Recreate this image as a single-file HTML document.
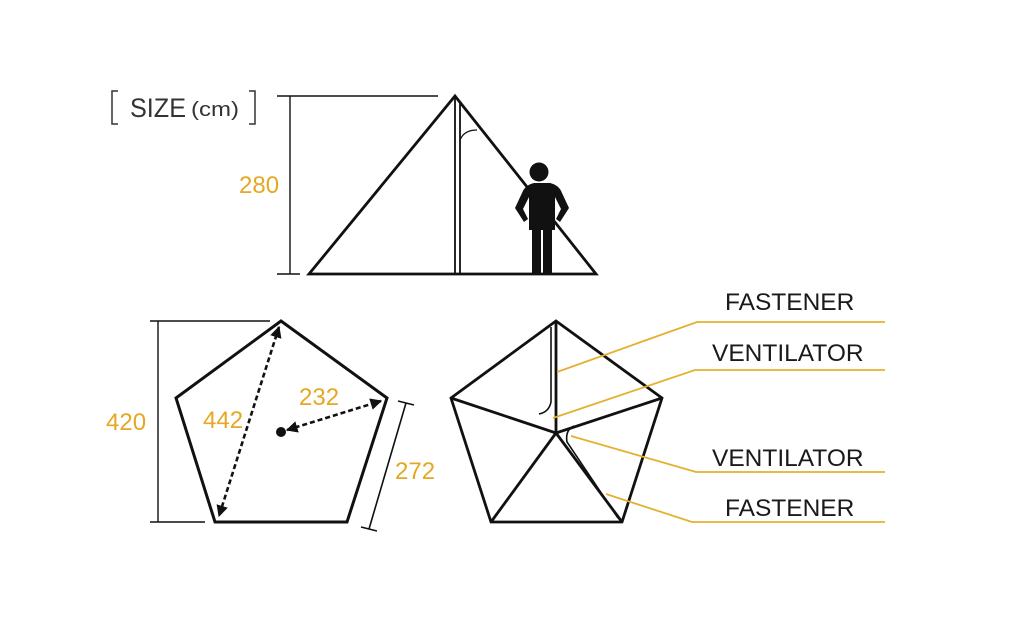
<!DOCTYPE html>
<html><head><meta charset="utf-8"><style>
html,body{margin:0;padding:0;background:#fff;width:1024px;height:627px;overflow:hidden}
svg{display:block}
.g{fill:#e5a823;font-family:"Liberation Sans",sans-serif;font-size:24px}
.k{fill:#1a1a1a;font-family:"Liberation Sans",sans-serif;font-size:24.5px}
</style></head><body>
<svg width="1024" height="627" viewBox="0 0 1024 627" xmlns="http://www.w3.org/2000/svg">
<defs>
<marker id="ah" viewBox="0 0 10 10" refX="9" refY="5" markerWidth="4.5" markerHeight="4.5" orient="auto-start-reverse"><path d="M0,0L10,5L0,10z" fill="#111"/></marker>
</defs>
<path d="M118,91h-6v33h6M249,91h6v33h-6" fill="none" stroke="#333" stroke-width="1.5"/>
<text x="130" y="117" textLength="56" lengthAdjust="spacingAndGlyphs" style="font-family:'Liberation Sans',sans-serif;font-size:27px;fill:#333">SIZE</text>
<text x="191" y="116" textLength="48" lengthAdjust="spacingAndGlyphs" style="font-family:'Liberation Sans',sans-serif;font-size:20px;fill:#333">(cm)</text>
<g stroke="#111" fill="none">
<path d="M277,96H438M290,96V274M277,274H300" stroke-width="1.4"/>
<path d="M309,274L455,96L596,274Z" stroke-width="2.8"/>
<path d="M455,96V274M460,103V274" stroke-width="1.8"/>
<path d="M460,140q4,-10 17,-10" stroke-width="1.3"/>
</g>
<text class="g" x="239" y="193">280</text>
<g fill="#111">
<circle cx="539" cy="172" r="9.5"/>
<path d="M528,183h22q9,2 12,10l7,15 -9,14 -4,-3 5,-10 -6,-12v33h-3v44h-9v-44h-2v44h-9v-44h-3v-33l-6,12 5,10 -4,3 -9,-14 7,-15q3,-8 12,-10z"/>
</g>
<g stroke="#111" fill="none">
<path d="M150,321H270M158,321V522M150,522H205" stroke-width="1.4"/>
<path d="M281,321L387,398L347,522L215,522L176,398Z" stroke-width="3"/>
<path d="M406,403L369,529M398,401L414,405M361,527L377,531" stroke-width="1.6"/>
<path d="M279,327L219,516" stroke-width="2.6" stroke-dasharray="5,3" marker-start="url(#ah)" marker-end="url(#ah)"/>
<path d="M287,430L381,401" stroke-width="2.6" stroke-dasharray="5,3" marker-start="url(#ah)" marker-end="url(#ah)"/>
</g>
<circle cx="281" cy="432" r="5" fill="#111"/>
<text class="g" x="106" y="430">420</text>
<text class="g" x="203" y="428">442</text>
<text class="g" x="299" y="405">232</text>
<text class="g" x="395" y="479">272</text>
<g stroke="#111" fill="none" stroke-width="2.8">
<path d="M556,321L662,398L622,522L491,522L451,398Z"/>
<path d="M556,321V433M451,398L556,433L662,398M556,433L491,522M556,433L622,522"/>
<path d="M551,327V402q-2,10 -12,12M574,426q-9,4 -7,16l51,76" stroke-width="1.6"/>
</g>
<g stroke="#e5b02f" stroke-width="1.8" fill="none">
<path d="M557,372L697,322H885"/>
<path d="M553,418L695,370H885"/>
<path d="M571,436L696,472H885"/>
<path d="M606,494L692,522H885"/>
</g>
<text class="k" x="725" y="310">FASTENER</text>
<text class="k" x="712" y="361">VENTILATOR</text>
<text class="k" x="712" y="466">VENTILATOR</text>
<text class="k" x="725" y="516">FASTENER</text>
</svg>
</body></html>
